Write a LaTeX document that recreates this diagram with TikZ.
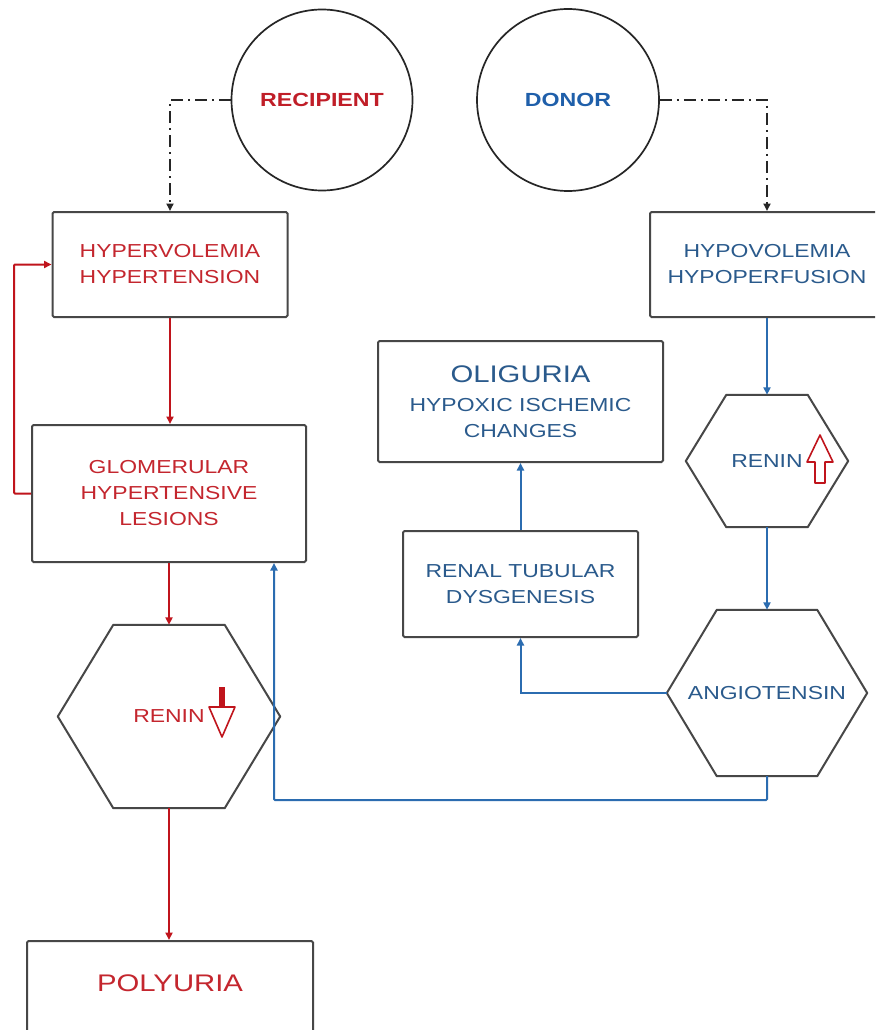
\documentclass[tikz,border=0pt]{standalone}
\usepackage{fontspec}
\setmainfont{Liberation Sans}[FakeStretch=1.22]
\usetikzlibrary{arrows.meta}
\definecolor{cRedT}{HTML}{C4262E}
\definecolor{cRedB}{HTML}{C01E28}
\definecolor{cBlueT}{HTML}{2A5A8C}
\definecolor{cBlueB}{HTML}{1F5FAA}
\definecolor{cRedL}{HTML}{C0141C}
\definecolor{cBlueL}{HTML}{2B6CB0}
\definecolor{cBox}{HTML}{474747}
\begin{document}
\begin{tikzpicture}[x=1pt,y=-1pt,
  box/.style={draw=cBox, line width=2pt, rounded corners=1.5pt, align=center, inner sep=0pt},
  hexnode/.style={inner sep=0pt, align=center},
  hexline/.style={draw=cBox, line width=2pt, line join=round},
  circ/.style={circle, draw=black!85, line width=1.7pt, inner sep=0pt, font=\fontsize{19}{22}\selectfont\bfseries},
  reg/.style={font=\fontsize{18.8}{26}\selectfont},
  redtxt/.style={reg, text=cRedT},
  bluetxt/.style={reg, text=cBlueT},
  tip/.style={-{Triangle[length=7.5pt,width=7pt]}},
  redc/.style={tip, draw=cRedL, line width=2pt},
  bluec/.style={tip, draw=cBlueL, line width=2pt},
  dd/.style={tip, draw=black!85, line width=1.8pt, dash pattern=on 12pt off 5pt on 2pt off 5pt}
]
\useasboundingbox (0,0) rectangle (875,1030);
\clip (0,0) rectangle (875,1030);
\fill[white] (0,0) rectangle (875,1030);

% circles
\node[circ, minimum size=181pt, text=cRedB] (recip) at (322,100) {RECIPIENT};
\node[circ, minimum size=182pt, text=cBlueB] (donor) at (568,100) {DONOR};

% boxes
\node[box, redtxt, minimum width=235pt, minimum height=105pt] (hyper) at (170,264.5) {HYPERVOLEMIA\\HYPERTENSION};
\node[box, redtxt, minimum width=274pt, minimum height=137pt] (glom) at (169,493.5) {GLOMERULAR\\HYPERTENSIVE\\LESIONS};
\node[box, bluetxt, minimum width=234pt, minimum height=105pt] (hypo) at (767,264.5) {HYPOVOLEMIA\\HYPOPERFUSION};
\node[box, bluetxt, minimum width=285pt, minimum height=121pt] (olig) at (520.5,401.5) {{\fontsize{24}{28}\selectfont OLIGURIA}\\[3pt]HYPOXIC ISCHEMIC\\CHANGES};
\node[box, bluetxt, minimum width=235pt, minimum height=106pt] (renal) at (520.5,584) {RENAL TUBULAR\\DYSGENESIS};
\node[box, minimum width=286pt, minimum height=104pt] (polybox) at (170,993) {};
\node[font=\fontsize{24}{28}\selectfont, text=cRedT] (poly) at (170,983) {POLYURIA};

% hexagons
\node[hexnode, redtxt, minimum width=222pt, minimum height=183pt] (reninL) at (169,716.5) {RENIN};
\draw[hexline] (reninL.west) -- ([xshift=55.5pt]reninL.north west) -- ([xshift=-55.5pt]reninL.north east) -- (reninL.east) -- ([xshift=-55.5pt]reninL.south east) -- ([xshift=55.5pt]reninL.south west) -- cycle;
\node[hexnode, bluetxt, minimum width=162pt, minimum height=132pt] (reninR) at (767,461) {RENIN};
\draw[hexline] (reninR.west) -- ([xshift=40.5pt]reninR.north west) -- ([xshift=-40.5pt]reninR.north east) -- (reninR.east) -- ([xshift=-40.5pt]reninR.south east) -- ([xshift=40.5pt]reninR.south west) -- cycle;
\node[hexnode, bluetxt, minimum width=200pt, minimum height=166pt] (angio) at (767,693) {ANGIOTENSIN};
\draw[hexline] (angio.west) -- ([xshift=50pt]angio.north west) -- ([xshift=-50pt]angio.north east) -- (angio.east) -- ([xshift=-50pt]angio.south east) -- ([xshift=50pt]angio.south west) -- cycle;

% block arrows beside RENIN
\draw[cRedL, line width=1.6pt, line join=round, fill=white]
  (209,707) -- (235,707) -- (222,737) -- cycle;
\draw[cRedL, line width=1.2pt, fill=cRedL] (220,688) rectangle (224,707);
\draw[cRedL, line width=1.6pt, line join=round, fill=white]
  (820,435) -- (833,462) -- (825,462) -- (825,483) -- (815,483) -- (815,462) -- (807,462) -- cycle;

% connectors
\draw[dd] (recip.west) -| (hyper.north);
\draw[dd] (donor.east) -| (hypo.north);
\draw[redc] (hyper.south) -- (hyper.south |- glom.north);
\coordinate (fbx) at (14,0);
\draw[redc, rounded corners=1pt] (glom.west) -- (glom.west -| fbx) |- (hyper.west);
\draw[redc] (glom.south) -- (reninL.north);
\draw[redc] (reninL.south) -- (reninL.south |- polybox.north);
\draw[bluec] (hypo.south) -- (reninR.north);
\draw[bluec] (reninR.south) -- (angio.north);
\draw[bluec] (angio.west) -| (renal.south);
\draw[bluec] (renal.north) -- (olig.south);
\coordinate (low) at (767,800);
\coordinate (gin) at ([xshift=-33pt]glom.south east);
\draw[bluec, rounded corners=1pt] (angio.south) -- (low) -| (gin);
\end{tikzpicture}
\end{document}
